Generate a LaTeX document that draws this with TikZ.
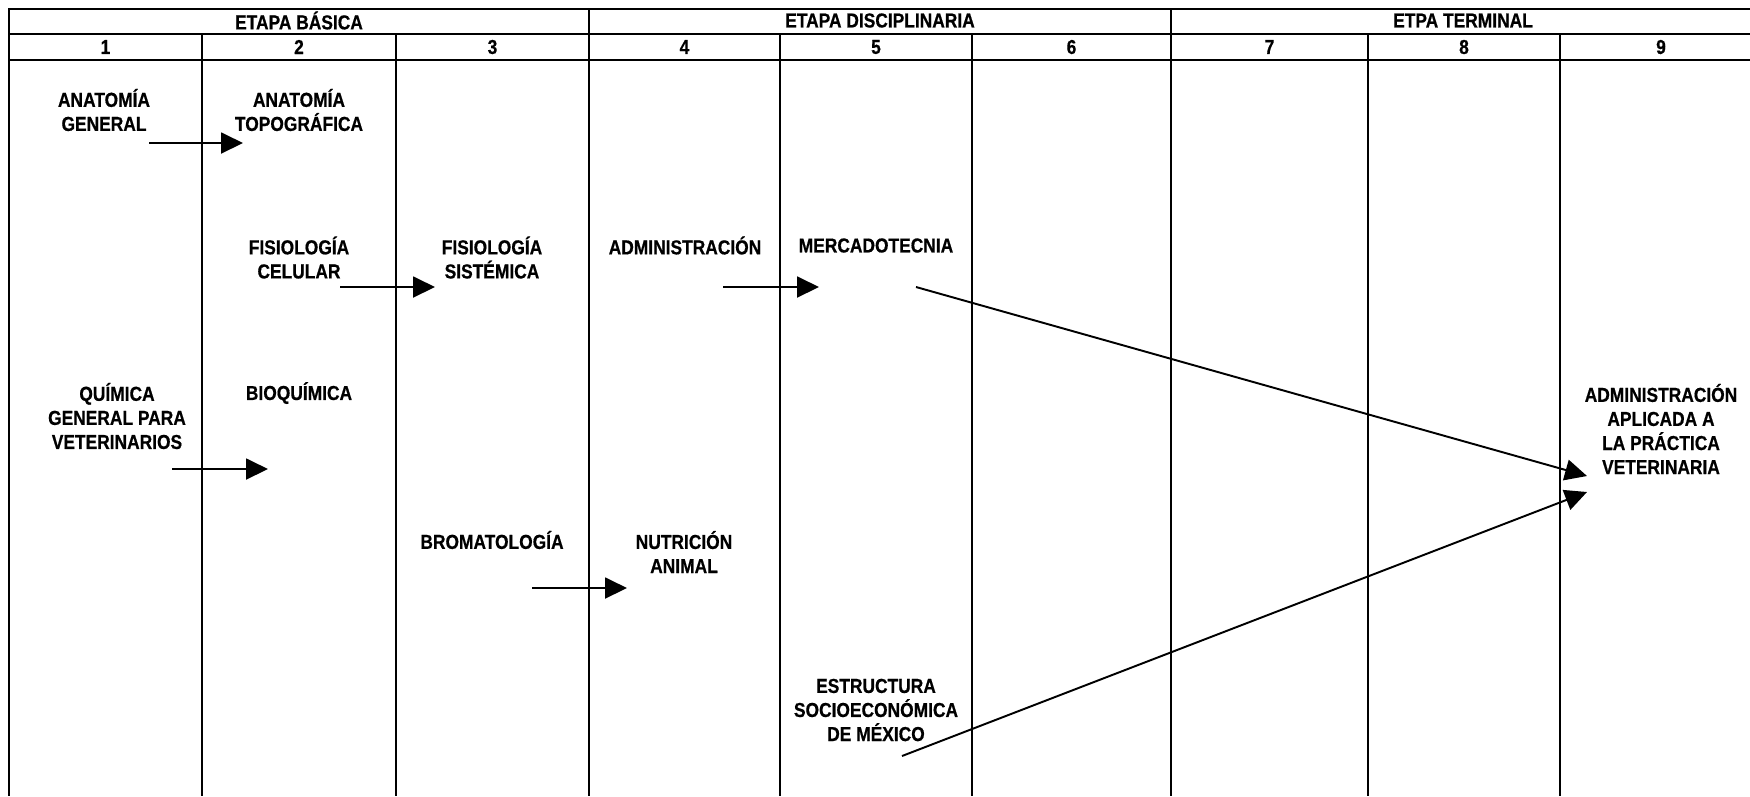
\documentclass[tikz,border=0pt]{standalone}
\usepackage{fontspec}
\setmainfont{Liberation Sans}[FakeStretch=0.86,BoldFeatures={FakeBold=0.6}]
\usetikzlibrary{arrows.meta}
\begin{document}
\begin{tikzpicture}[x=0.02cm,y=-0.02cm,
                txt/.style={font=\bfseries\fontsize{11.5}{13.7}\selectfont,align=center,inner sep=0pt},
                rule/.style={line width=1.2pt},
                link/.style={line width=1.1pt,-{Triangle[length=0.44cm,width=0.42cm]}}]
                \useasboundingbox (0,0) rectangle (1750,796);
                % table
                \draw[rule] (1750,9.3) -- (9,9.3) -- (9,796);
                \draw[rule] (9,33.7) -- (1750,33.7) (9,60) -- (1750,60);
                \draw[rule] (589,9.3) -- (589,796) (1171,9.3) -- (1171,796);
                \foreach \x in {202,396,780,972,1368,1560} \draw[rule] (\x,33.7) -- (\x,796);
                \node[txt] (eb) at (299,20.5) {ETAPA BÁSICA};
                \node[txt] (ed) at (880,20.5) {ETAPA DISCIPLINARIA};
                \node[txt] (et) at (1463,20.5) {ETPA TERMINAL};
                \foreach \n/\x in {1/105.5,2/299,3/492.5,4/684.5,5/876,6/1071.5,7/1269.5,8/1464,9/1661}
                   \node[txt] (c\n) at (\x,47) {\n};
                % subjects
                \node[txt] (ag) at (104,110) {ANATOMÍA\\GENERAL};
                \node[txt] (at) at (299,110) {ANATOMÍA\\TOPOGRÁFICA};
                \node[txt] (fc) at (299,257.5) {FISIOLOGÍA\\CELULAR};
                \node[txt] (fs) at (492,257.5) {FISIOLOGÍA\\SISTÉMICA};
                \node[txt] (adm) at (685,245.5) {ADMINISTRACIÓN};
                \node[txt] (mer) at (876,245.5) {MERCADOTECNIA};
                \node[txt] (qg) at (117,416) {QUÍMICA\\GENERAL PARA\\VETERINARIOS};
                \node[txt] (bq) at (299,393) {BIOQUÍMICA};
                \node[txt] (bro) at (492,540) {BROMATOLOGÍA};
                \node[txt] (nut) at (684,552) {NUTRICIÓN\\ANIMAL};
                \node[txt] (es) at (876,710) {ESTRUCTURA\\SOCIOECONÓMICA\\DE MÉXICO};
                \node[txt] (aap) at (1661,429) {ADMINISTRACIÓN\\APLICADA A\\LA PRÁCTICA\\VETERINARIA};
                % arrow ends
                \coordinate (a1) at (149,143); \coordinate (a2) at (243,143);
                \coordinate (f1) at (340,287); \coordinate (f2) at (435,287);
                \coordinate (d1) at (723,287); \coordinate (d2) at (819,287);
                \coordinate (q1) at (172,469); \coordinate (q2) at (268,469);
                \coordinate (b1) at (532,588); \coordinate (b2) at (627,588);
                \coordinate (m1) at (916,287); \coordinate (m2) at (1587,476);
                \coordinate (e1) at (902,756); \coordinate (e2) at (1587,492);
                \draw[link] (a1) -- (a2);
                \draw[link] (f1) -- (f2);
                \draw[link] (d1) -- (d2);
                \draw[link] (q1) -- (q2);
                \draw[link] (b1) -- (b2);
                \draw[link] (m1) -- (m2);
                \draw[link] (e1) -- (e2);
\end{tikzpicture}
\end{document}
